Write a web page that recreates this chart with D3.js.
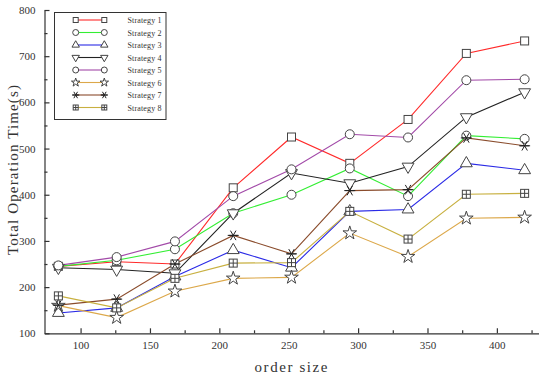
<!DOCTYPE html>
<html>
<head>
<meta charset="utf-8">
<script src="https://cdn.jsdelivr.net/npm/d3@7"></script>
<style>
  body { margin: 0; background: #fff; }
  svg text { font-family: "Liberation Serif", "DejaVu Serif", serif; fill: #333; }
</style>
</head>
<body>
<svg id="chart" width="550" height="378"></svg>
<script>
// order sizes
const orderSize = [84, 126, 168, 210, 252, 294, 336, 378, 420];
const names = ["Strategy 1", "Strategy 2", "Strategy 3", "Strategy 4",
               "Strategy 5", "Strategy 6", "Strategy 7", "Strategy 8"];
// total operation time per strategy
const s1 = [245, 255, 250, 415, 525, 468, 563, 706, 733];
const s2 = [245, 258, 282, 360, 400, 457, 397, 528, 521];
const s3 = [144, 155, 223, 280, 242, 364, 368, 468, 453];
const s4 = [242, 238, 230, 360, 447, 425, 461, 568, 622];
const s5 = [247, 265, 299, 397, 455, 531, 524, 648, 650];
const s6 = [160, 134, 191, 219, 221, 317, 266, 349, 351];
const s7 = [161, 174, 250, 312, 272, 409, 411, 523, 506];
const s8 = [181, 155, 219, 252, 253, 364, 304, 401, 403];
const series = [s1, s2, s3, s4, s5, s6, s7, s8];

const colors = ["#ff2a2a", "#33ee33", "#2a2ae6", "#222222",
                "#a24aa8", "#dca84a", "#8a4c2c", "#c8b040"];
const shapes = ["square", "circle", "triUp", "triDown", "circle", "star", "asterisk", "hash"];

const yTicks = [100, 200, 300, 400, 500, 600, 700, 800];
const xTicks = [100, 150, 200, 250, 300, 350, 400];

const svg = d3.select("#chart");

const x = d3.scaleLinear().domain([74, 430]).range([44.5, 538.5]);
const y = d3.scaleLinear().domain([100, 800]).range([333.3, 10]);

// Axes
svg.append("g").attr("transform", "translate(0," + y(100) + ")")
  .call(d3.axisBottom(x).tickValues(xTicks).tickSizeInner(-5).tickSizeOuter(0).tickPadding(8));
svg.append("g").attr("transform", "translate(0," + y(100) + ")")
  .call(d3.axisBottom(x).tickValues(d3.range(125, 430, 50)).tickSizeInner(-3).tickSizeOuter(0).tickFormat(""))
  .select(".domain").remove();

svg.append("g").attr("transform", "translate(" + x(74) + ",0)")
  .call(d3.axisLeft(y).tickValues(yTicks).tickSizeInner(-5).tickSizeOuter(0).tickPadding(9));
svg.append("g").attr("transform", "translate(" + x(74) + ",0)")
  .call(d3.axisLeft(y).tickValues(d3.range(150, 800, 100)).tickSizeInner(-3).tickSizeOuter(0).tickFormat(""))
  .select(".domain").remove();

svg.selectAll(".domain, .tick line").attr("stroke", "#333").attr("stroke-width", 1.2);
svg.selectAll(".tick text").style("font-size", "11px").attr("fill", "#333");

// Axis titles
svg.append("text").attr("x", 291).attr("y", 372).attr("text-anchor", "middle")
  .style("font-size", "15px").attr("textLength", 73).attr("lengthAdjust", "spacing")
  .text("order size");
svg.append("text").attr("transform", "translate(18,170) rotate(-90)").attr("text-anchor", "middle")
  .style("font-size", "15px").attr("textLength", 170).attr("lengthAdjust", "spacing")
  .text("Total Operation Time(s)");

// marker drawing
function marker(g, shape, s) {
  const st = "#444";
  if (shape === "square") {
    g.append("rect").attr("x", -s/2).attr("y", -s/2).attr("width", s).attr("height", s)
      .attr("fill", "#fff").attr("stroke", st);
  } else if (shape === "circle") {
    g.append("circle").attr("r", s/2 + 0.5).attr("fill", "#fff").attr("stroke", st);
  } else if (shape === "triUp" || shape === "triDown") {
    const tri = d3.symbol(d3.symbolTriangle, s * s * 0.95)();
    g.append("path").attr("d", tri).attr("fill", "#fff").attr("stroke", st)
      .attr("transform", shape === "triDown" ? "rotate(180)" : null);
  } else if (shape === "star") {
    g.append("path").attr("d", d3.symbol(d3.symbolStar, s * s * 0.9)())
      .attr("fill", "#fff").attr("stroke", st);
  } else if (shape === "asterisk") {
    const r = s / 2 + 0.5;
    g.append("path").attr("d", d3.symbol(d3.symbolAsterisk, r * r * 4.2)())
      .attr("fill", "none").attr("stroke", "#222").attr("transform", "rotate(90)");
    g.append("path").attr("d", "M" + (-r) + ",0H" + r).attr("stroke", "#222");
  } else if (shape === "hash") {
    g.append("rect").attr("x", -s/2).attr("y", -s/2).attr("width", s).attr("height", s)
      .attr("fill", "#fff").attr("stroke", st);
    g.append("path").attr("d", "M0," + (-s/2) + "V" + (s/2) + "M" + (-s/2) + ",0H" + (s/2))
      .attr("stroke", st);
  }
}

// Lines
const line = d3.line().x((d, i) => x(orderSize[i])).y(d => y(d));
series.forEach(function(vals, k) {
  svg.append("path").datum(vals).attr("d", line)
    .attr("fill", "none").attr("stroke", colors[k]).attr("stroke-width", 1.1);
});

// Markers
series.forEach(function(vals, k) {
  vals.forEach(function(v, i) {
    const g = svg.append("g").attr("transform", "translate(" + x(orderSize[i]) + "," + y(v) + ")");
    marker(g, shapes[k], 8);
  });
});

// Legend
const legend = svg.append("g");
legend.append("rect").attr("x", 54.5).attr("y", 12.5).attr("width", 111.5).attr("height", 107)
  .attr("fill", "#fff").attr("stroke", "#333").attr("stroke-width", 1);
names.forEach(function(n, k) {
  const ly = 20 + k * 12.5;
  legend.append("line").attr("x1", 75.7).attr("x2", 104.3).attr("y1", ly).attr("y2", ly)
    .attr("stroke", colors[k]).attr("stroke-width", 1.1);
  [75.7, 104.3].forEach(function(lx) {
    marker(legend.append("g").attr("transform", "translate(" + lx + "," + ly + ")"), shapes[k], 5);
  });
  legend.append("text").attr("x", 127.5).attr("y", ly + 3).style("font-size", "8px")
    .attr("fill", "#555").attr("textLength", 34).attr("lengthAdjust", "spacing").text(n);
});
</script>
</body>
</html>
